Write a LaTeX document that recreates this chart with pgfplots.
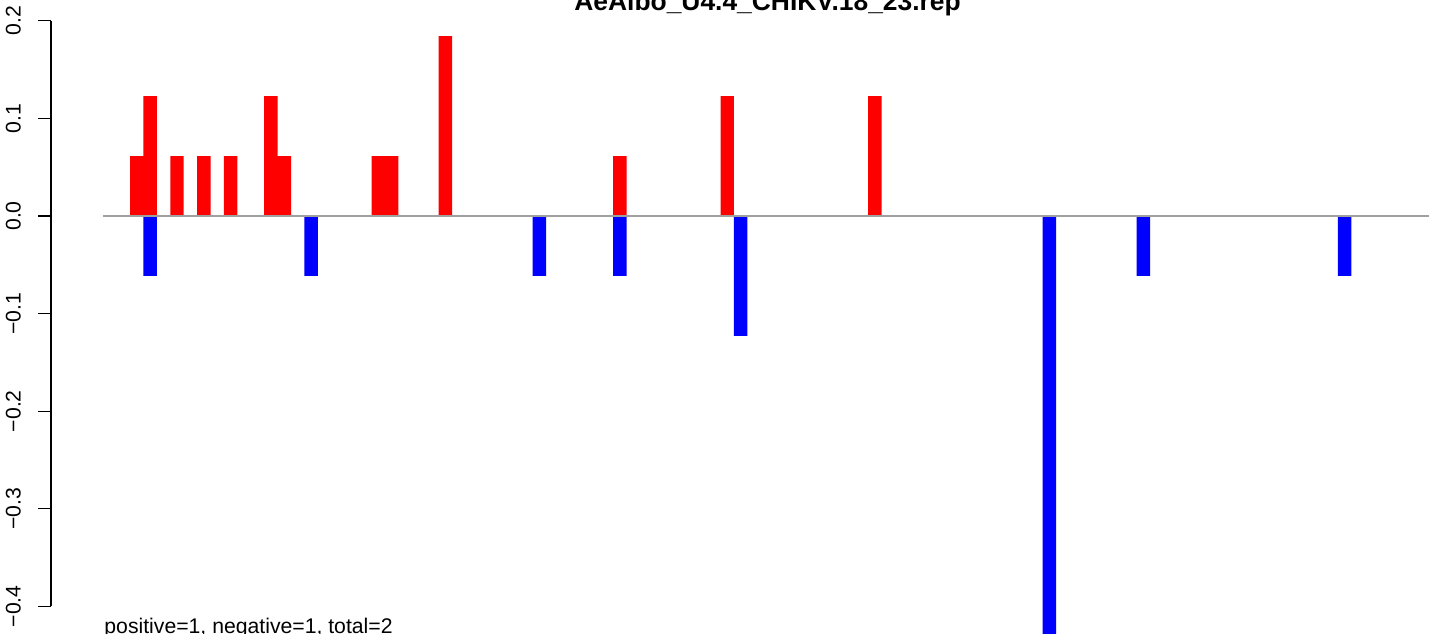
\documentclass[border=0pt]{standalone}
\usepackage{pgfplots}
\pgfplotsset{compat=1.18}
\usepackage{fontspec}
\setmainfont{Liberation Sans}
\definecolor{rred}{RGB}{255,0,0}
\definecolor{rblue}{RGB}{0,0,255}
\definecolor{zgray}{RGB}{160,160,160}
\begin{document}
\begin{tikzpicture}
\begin{axis}[
  scale only axis,
  width=689pt, height=317pt,
  xmin=-5.886, xmax=96.782,
  ymin=-0.4283, ymax=0.2213,
  clip=false,
  axis x line=none,
  axis y line*=left,
  y axis line style={draw=none},
  xtick=\empty,
  ytick={-0.4,-0.3,-0.2,-0.1,0,0.1,0.2},
  yticklabels={−0.4,−0.3,−0.2,−0.1,0.0,0.1,0.2},
  tick align=outside,
  major tick length=6.5pt,
  ytick style={line width=0.6pt, black},
  yticklabel style={xshift=-8.7pt, rotate=90, anchor=base, inner sep=0pt, font=\fontsize{10.6}{12}\selectfont},
  ybar, bar width=1, bar shift=0pt,
]
% positive bars (bin index + 0.5)
\addplot[fill=rred, draw=none] coordinates {
 (0.5,0.0614) (1.5,0.1228) (3.5,0.0614) (5.5,0.0614) (7.5,0.0614)
 (10.5,0.1228) (11.5,0.0614) (18.5,0.0614) (19.5,0.0614) (23.5,0.1842)
 (36.5,0.0614) (44.5,0.1228) (55.5,0.1228)
};
% negative bars
\addplot[fill=rblue, draw=none] coordinates {
 (1.5,-0.0614) (13.5,-0.0614) (30.5,-0.0614) (36.5,-0.0614) (45.5,-0.1228)
 (68.5,-0.43) (75.5,-0.0614) (90.5,-0.0614)
};
% zero line
\addplot[sharp plot, zgray, line width=0.65pt] coordinates {(-2.012,0) (96.782,0)};
\draw[line width=0.6pt] (axis cs:-5.886,-0.4) -- (axis cs:-5.886,0.2);
\node[anchor=base, font=\bfseries\fontsize{13.2}{15}\selectfont, inner sep=0pt]
  at (rel axis cs:0.52,0.984) {AeAlbo\_U4.4\_CHIKV.18\_23.rep};
\node[anchor=base west, inner sep=0pt, font=\fontsize{10.6}{12}\selectfont]
  at (rel axis cs:0.0385,0) {positive=1, negative=1, total=2};
\coordinate (bl) at (rel axis cs:0,0);
\coordinate (tr) at (rel axis cs:1,1);
\end{axis}
\pgfresetboundingbox
\path[use as bounding box] ([xshift=-25.5pt]bl) rectangle (tr);
\end{tikzpicture}
\end{document}
